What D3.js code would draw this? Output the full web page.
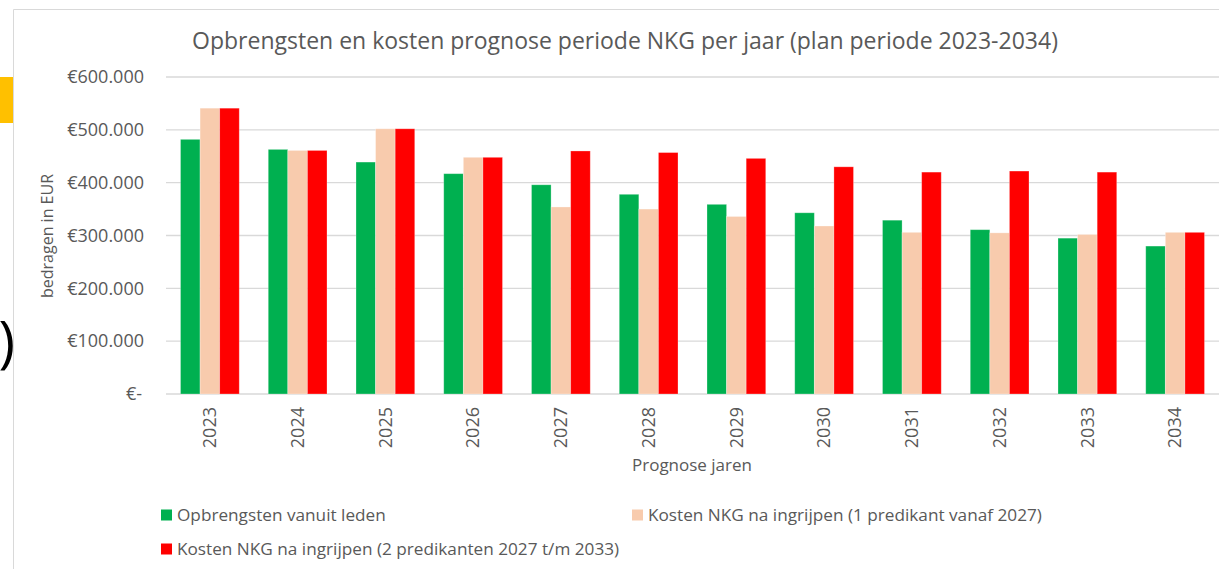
<!DOCTYPE html>
<html>
<head>
<meta charset="utf-8">
<script src="https://cdn.jsdelivr.net/npm/d3@7"></script>
<style>
  body { margin: 0; background: #fff; }
  text { font-family: "Open Sans", sans-serif; fill: #595959; }
</style>
</head>
<body>
<div id="drawingfield"></div>
<script>
// data
var years = ["2023","2024","2025","2026","2027","2028","2029","2030","2031","2032","2033","2034"];
var opbrengsten = [482000, 463000, 439000, 417000, 396000, 378000, 359000, 343000, 329000, 311000, 295000, 280000];
var kosten1 = [541000, 461000, 502000, 448000, 354000, 350000, 336000, 318000, 306000, 305000, 302000, 306000];
var kosten2 = [541000, 461000, 502000, 448000, 460000, 457000, 446000, 430000, 420000, 422000, 420000, 306000];
var seriesNames = ["Opbrengsten vanuit leden", "Kosten NKG na ingrijpen (1 predikant vanaf 2027)", "Kosten NKG na ingrijpen (2 predikanten 2027 t/m 2033)"];
var yTicks = [0, 100000, 200000, 300000, 400000, 500000, 600000];

var colors = ["#00B050", "#F8CBAD", "#FF0000"];
var allSeries = [opbrengsten, kosten1, kosten2];

var width = 1219, height = 569;

var svg = d3.select("#drawingfield")
  .append("svg")
  .attr("width", width)
  .attr("height", height);

// bits of the page around the chart
svg.append("rect").attr("x", 0).attr("y", 77).attr("width", 13).attr("height", 46).attr("fill", "#FFC000");
svg.append("text").attr("x", 15).attr("y", 362).attr("text-anchor", "end")
  .style("font-size", "56px").style("fill", "#000").text(")");
svg.append("path").attr("d", "M13.5,569V9.5H1219").attr("fill", "none").attr("stroke", "#d9d9d9");

// scales
var x0 = d3.scaleBand().domain(years).range([166, 1219]);
var x1 = d3.scaleBand().domain([0, 1, 2]).range([0, x0.bandwidth()]).paddingOuter(0.74);
var y = d3.scaleLinear().domain([0, 600000]).range([394, 77]);

var nl = d3.formatLocale({decimal: ",", thousands: ".", grouping: [3], currency: ["€", ""]});
var fmt = nl.format(",");

// gridlines + y labels
svg.append("g").selectAll("line")
  .data(yTicks).enter().append("line")
  .attr("x1", 166).attr("x2", 1219)
  .attr("y1", function(d){ return y(d); })
  .attr("y2", function(d){ return y(d); })
  .attr("stroke", "#d9d9d9").attr("stroke-width", 1.3);

svg.append("g").selectAll("text")
  .data(yTicks).enter().append("text")
  .attr("x", function(d){ return d === 0 ? 142 : 144; })
  .attr("y", function(d){ return y(d); })
  .attr("dy", "0.35em")
  .attr("text-anchor", "end")
  .style("font-size", "18px")
  .text(function(d){ return d === 0 ? "€-" : "€" + fmt(d); });

// bars
var groups = svg.append("g").selectAll("g")
  .data(years).enter().append("g")
  .attr("transform", function(d){ return "translate(" + x0(d) + ",0)"; });

groups.selectAll("rect")
  .data(function(d, i){ return allSeries.map(function(s, k){ return {k: k, v: s[i]}; }); })
  .enter().append("rect")
  .attr("x", function(d){ return x1(d.k); })
  .attr("width", x1.bandwidth())
  .attr("y", function(d){ return y(d.v); })
  .attr("height", function(d){ return y(0) - y(d.v); })
  .attr("fill", function(d){ return colors[d.k]; })
  .attr("stroke", "rgba(255,255,255,0.35)").attr("stroke-width", 0.8);

// x labels rotated
svg.append("g").selectAll("text")
  .data(years).enter().append("text")
  .attr("transform", function(d){ return "translate(" + (x0(d) + x0.bandwidth() / 2) + ",407) rotate(-90)"; })
  .attr("dy", "0.35em")
  .attr("text-anchor", "end")
  .style("font-size", "18px")
  .text(function(d){ return d; });

// titles
svg.append("text").attr("x", 625).attr("y", 41).attr("dy", "0.35em")
  .attr("text-anchor", "middle").style("font-size", "23px")
  .text("Opbrengsten en kosten prognose periode NKG per jaar (plan periode 2023-2034)");

svg.append("text").attr("transform", "translate(47,236) rotate(-90)").attr("dy", "0.35em")
  .attr("text-anchor", "middle").style("font-size", "16px")
  .text("bedragen  in EUR");

svg.append("text").attr("x", 692).attr("y", 465).attr("dy", "0.35em")
  .attr("text-anchor", "middle").style("font-size", "17px")
  .text("Prognose jaren");

// legend
var legendPos = [[161, 515], [632, 515], [161, 549]];
var legend = svg.append("g").selectAll("g")
  .data(seriesNames).enter().append("g")
  .attr("transform", function(d, i){ return "translate(" + legendPos[i][0] + "," + legendPos[i][1] + ")"; });

legend.append("rect").attr("x", 0).attr("y", -5.5).attr("width", 11).attr("height", 11)
  .attr("fill", function(d, i){ return colors[i]; });
legend.append("text").attr("x", 16).attr("dy", "0.35em")
  .style("font-size", "17.2px")
  .text(function(d){ return d; });
</script>
</body>
</html>
